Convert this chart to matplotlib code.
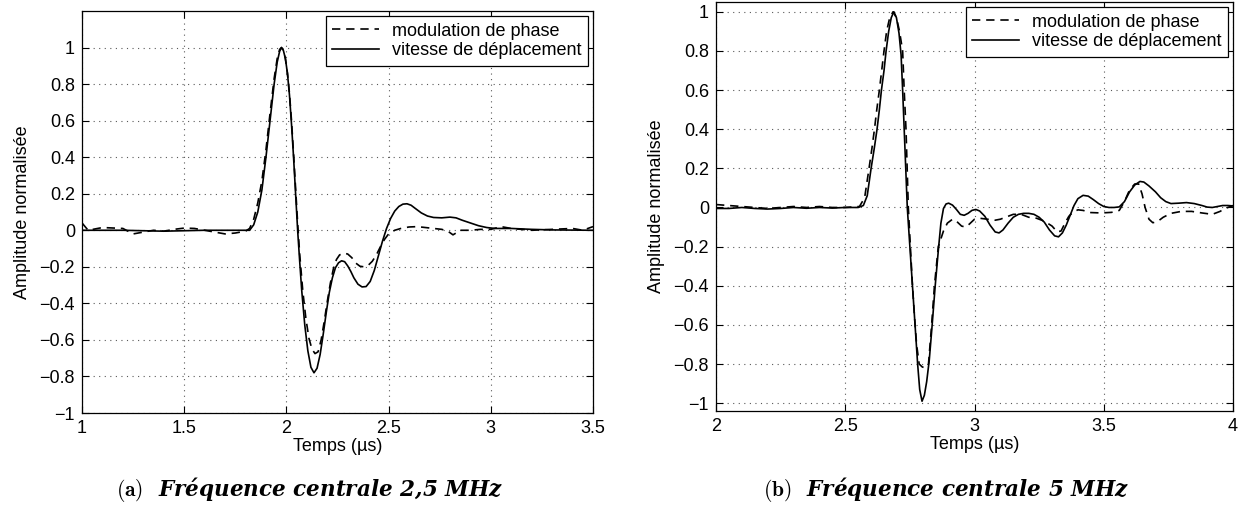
import numpy as np
import matplotlib
matplotlib.use("Agg")
import matplotlib.pyplot as plt

plt.rcParams["font.family"] = ["Liberation Sans", "DejaVu Sans"]
plt.rcParams["mathtext.fontset"] = "cm"

# --- (a) 2,5 MHz ---
t_a_phase = [1.0, 1.03, 1.1, 1.2, 1.25, 1.3, 1.35, 1.4, 1.45, 1.5, 1.55, 1.6, 1.65, 1.7,
             1.75, 1.8, 1.82, 1.84, 1.86, 1.88, 1.9, 1.92, 1.94, 1.955, 1.967, 1.976,
             1.985, 1.995, 2.005, 2.015, 2.025, 2.035, 2.045, 2.055, 2.065, 2.08, 2.095,
             2.11, 2.125, 2.14, 2.155, 2.17, 2.185, 2.2, 2.215, 2.23, 2.245, 2.26, 2.28,
             2.3, 2.32, 2.34, 2.36, 2.38, 2.4, 2.42, 2.44, 2.46, 2.48, 2.5, 2.53, 2.56,
             2.6, 2.64, 2.68, 2.72, 2.76, 2.79, 2.815, 2.83, 2.845, 2.9, 2.95, 3.0, 3.05,
             3.1, 3.2, 3.3, 3.4, 3.45, 3.5]
v_a_phase = [0.04, 0.0, 0.015, 0.01, -0.02, -0.01, 0.0, -0.005, 0.005, 0.012, 0.01, 0.0,
             -0.01, -0.02, -0.015, -0.005, 0.01, 0.06, 0.15, 0.27, 0.44, 0.64, 0.83, 0.94,
             0.99, 1.0, 0.985, 0.94, 0.86, 0.75, 0.6, 0.42, 0.23, 0.04, -0.13, -0.33,
             -0.48, -0.59, -0.65, -0.675, -0.665, -0.6, -0.5, -0.39, -0.29, -0.21, -0.16,
             -0.135, -0.125, -0.13, -0.15, -0.18, -0.197, -0.2, -0.192, -0.17, -0.135,
             -0.09, -0.05, -0.02, 0.0, 0.01, 0.018, 0.02, 0.015, 0.01, 0.005, -0.005,
             -0.025, -0.015, 0.0, 0.0, 0.005, 0.005, 0.02, 0.01, 0.0, 0.005, 0.01, 0.0, 0.02]
t_a_vit = [1.0, 1.2, 1.4, 1.6, 1.8, 1.82, 1.84, 1.86, 1.88, 1.9, 1.92, 1.94, 1.955, 1.967,
           1.976, 1.985, 1.995, 2.005, 2.015, 2.025, 2.035, 2.045, 2.055, 2.065, 2.075,
           2.09, 2.105, 2.12, 2.135, 2.15, 2.165, 2.18, 2.195, 2.21, 2.225, 2.24, 2.255,
           2.27, 2.285, 2.3, 2.315, 2.33, 2.35, 2.37, 2.39, 2.41, 2.43, 2.45, 2.47, 2.49,
           2.51, 2.53, 2.55, 2.57, 2.59, 2.61, 2.63, 2.66, 2.69, 2.72, 2.76, 2.8, 2.83,
           2.86, 2.9, 2.94, 2.98, 3.02, 3.1, 3.2, 3.3, 3.5]
v_a_vit = [0.0, 0.0, -0.005, 0.0, 0.0, 0.0, 0.03, 0.1, 0.22, 0.4, 0.6, 0.8, 0.92, 0.98,
           1.0, 0.985, 0.94, 0.86, 0.74, 0.58, 0.4, 0.2, 0.0, -0.17, -0.33, -0.52, -0.66,
           -0.75, -0.78, -0.755, -0.68, -0.57, -0.45, -0.34, -0.26, -0.205, -0.178,
           -0.167, -0.172, -0.195, -0.225, -0.26, -0.295, -0.31, -0.308, -0.28, -0.22,
           -0.14, -0.06, 0.01, 0.065, 0.105, 0.13, 0.143, 0.145, 0.137, 0.12, 0.095,
           0.078, 0.07, 0.068, 0.072, 0.068, 0.055, 0.04, 0.025, 0.015, 0.01, 0.01, 0.005,
           0.002, 0.0]

# --- (b) 5 MHz ---
t_b_phase = [2.0, 2.05, 2.1, 2.15, 2.2, 2.25, 2.3, 2.35, 2.4, 2.45, 2.5, 2.555, 2.575,
             2.592, 2.603, 2.613, 2.622, 2.632, 2.641, 2.65, 2.66, 2.672, 2.685, 2.698,
             2.71, 2.722, 2.728, 2.735, 2.744, 2.752, 2.76, 2.768, 2.776, 2.786, 2.798,
             2.81, 2.822, 2.833, 2.845, 2.86, 2.88, 2.895, 2.915, 2.93, 2.95, 2.965, 2.98,
             3.0, 3.02, 3.05, 3.08, 3.1, 3.12, 3.15, 3.18, 3.21, 3.24, 3.27, 3.3, 3.32,
             3.335, 3.35, 3.365, 3.38, 3.4, 3.42, 3.45, 3.49, 3.53, 3.56, 3.58, 3.6, 3.62,
             3.635, 3.648, 3.66, 3.675, 3.69, 3.71, 3.73, 3.76, 3.8, 3.84, 3.88, 3.92,
             3.95, 3.97, 4.0]
v_b_phase = [0.015, 0.01, 0.005, 0.0, -0.005, 0.0, 0.005, 0.0, 0.005, 0.0, 0.0, 0.005,
             0.05, 0.2, 0.3, 0.4, 0.5, 0.6, 0.7, 0.8, 0.9, 0.97, 1.0, 0.97, 0.9, 0.8, 0.6,
             0.4, 0.0, -0.2, -0.4, -0.56, -0.7, -0.8, -0.815, -0.82, -0.8, -0.62, -0.4,
             -0.2, -0.12, -0.08, -0.06, -0.07, -0.095, -0.1, -0.085, -0.06, -0.055, -0.06,
             -0.065, -0.06, -0.05, -0.035, -0.035, -0.05, -0.055, -0.07, -0.095, -0.125,
             -0.12, -0.08, -0.045, -0.025, -0.012, -0.015, -0.026, -0.028, -0.025, -0.015,
             0.03, 0.09, 0.12, 0.12, 0.07, 0.0, -0.06, -0.078, -0.07, -0.05, -0.03, -0.02,
             -0.02, -0.028, -0.035, -0.02, -0.005, 0.01]
t_b_vit = [2.0, 2.05, 2.1, 2.15, 2.2, 2.25, 2.3, 2.35, 2.4, 2.45, 2.5, 2.55, 2.57, 2.585,
           2.6, 2.612, 2.623, 2.632, 2.64, 2.65, 2.658, 2.668, 2.678, 2.688, 2.698, 2.708,
           2.716, 2.722, 2.728, 2.734, 2.74, 2.75, 2.76, 2.77, 2.78, 2.788, 2.797, 2.806,
           2.815, 2.825, 2.835, 2.848, 2.86, 2.87, 2.88, 2.89, 2.9, 2.915, 2.93, 2.945,
           2.96, 2.975, 2.99, 3.005, 3.02, 3.04, 3.06, 3.08, 3.095, 3.11, 3.13, 3.15, 3.17,
           3.19, 3.21, 3.23, 3.25, 3.27, 3.29, 3.31, 3.325, 3.34, 3.355, 3.37, 3.385, 3.4,
           3.42, 3.44, 3.46, 3.48, 3.5, 3.52, 3.54, 3.56, 3.58, 3.6, 3.62, 3.64, 3.655,
           3.675, 3.7, 3.72, 3.74, 3.76, 3.79, 3.82, 3.85, 3.88, 3.9, 3.92, 3.94, 3.96,
           3.98, 4.0]
v_b_vit = [-0.005, -0.005, 0.0, -0.005, -0.008, -0.005, 0.0, -0.004, 0.0, -0.003, 0.0,
           0.0, 0.01, 0.06, 0.2, 0.3, 0.4, 0.5, 0.6, 0.7, 0.8, 0.9, 0.97, 1.0, 0.97, 0.89,
           0.78, 0.6, 0.4, 0.2, 0.0, -0.2, -0.4, -0.6, -0.8, -0.93, -0.99, -0.96, -0.89,
           -0.78, -0.62, -0.4, -0.22, -0.08, -0.005, 0.018, 0.022, 0.012, -0.01, -0.035,
           -0.04, -0.03, -0.015, -0.01, -0.018, -0.045, -0.09, -0.125, -0.13, -0.115,
           -0.08, -0.05, -0.035, -0.03, -0.03, -0.035, -0.05, -0.075, -0.115, -0.145,
           -0.15, -0.13, -0.09, -0.04, 0.01, 0.045, 0.062, 0.058, 0.04, 0.02, 0.005, 0.0,
           0.0, 0.003, 0.03, 0.08, 0.115, 0.133, 0.13, 0.11, 0.08, 0.05, 0.03, 0.02, 0.022,
           0.025, 0.02, 0.01, 0.002, 0.0, 0.005, 0.01, 0.01, 0.008]

xticks_a = [1, 1.5, 2, 2.5, 3, 3.5]
xticks_b = [2, 2.5, 3, 3.5, 4]
yticks = [-1, -0.8, -0.6, -0.4, -0.2, 0, 0.2, 0.4, 0.6, 0.8, 1]

fig = plt.figure(figsize=(12.52, 5.13), dpi=100)
ax_a = fig.add_axes([82 / 1252, 1 - 413 / 513, 511 / 1252, 402 / 513])
ax_b = fig.add_axes([716 / 1252, 1 - 411 / 513, 517 / 1252, 409 / 513])


def style_axes(ax, xticks, xlim, ylim):
    ax.set_xlim(xlim)
    ax.set_ylim(ylim)
    ax.set_xticks(xticks)
    ax.set_xticklabels([("%g" % v) for v in xticks])
    ax.set_yticks(yticks)
    ax.set_yticklabels([("%g" % v).replace("-", "\u2212") for v in yticks])
    ax.tick_params(direction="in", top=True, right=True, length=5, width=0.8,
                   labelsize=13, pad=5)
    ax.grid(True, color="0.35", linestyle=(0, (1, 4)), linewidth=0.8)
    for s in ax.spines.values():
        s.set_linewidth(0.9)
    ax.set_xlabel("Temps (µs)", fontsize=13, labelpad=1)
    ax.set_ylabel("Amplitude normalisée", fontsize=13, labelpad=6)


for ax, tp, vp, tv, vv in [(ax_a, t_a_phase, v_a_phase, t_a_vit, v_a_vit),
                           (ax_b, t_b_phase, v_b_phase, t_b_vit, v_b_vit)]:
    ax.plot(tp, vp, color="black", linewidth=1.2, linestyle=(0, (5, 3.5)),
            label="modulation de phase")
    ax.plot(tv, vv, color="black", linewidth=1.2, label="vitesse de déplacement")
    leg = ax.legend(loc="upper right", fontsize=13, fancybox=False, framealpha=1,
                    edgecolor="black", borderpad=0.35, labelspacing=0.15,
                    handlelength=2.6, handletextpad=0.7, borderaxespad=0.3)
    leg.get_frame().set_linewidth(0.9)

style_axes(ax_a, xticks_a, (1, 3.5), (-1, 1.2))
style_axes(ax_b, xticks_b, (2, 4), (-1.04, 1.05))

cap_kw = dict(fontsize=15.5, fontstyle="italic", fontweight="bold",
              family="DejaVu Serif", ha="center", va="center")
fig.text(0.2476, 0.045, r"$\mathbf{(a)}$  Fréquence centrale 2,5 MHz", **cap_kw)
fig.text(0.7556, 0.045, r"$\mathbf{(b)}$  Fréquence centrale 5 MHz", **cap_kw)

fig.savefig("out.png", dpi=100)
